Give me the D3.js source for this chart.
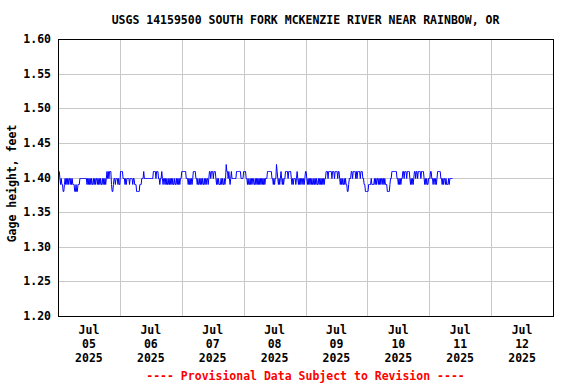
<!DOCTYPE html>
<html>
<head>
<meta charset="utf-8">
<script src="https://cdn.jsdelivr.net/npm/d3@7"></script>
<style>
  body{margin:0;background:#fff;}
  svg text{font-family:"DejaVu Sans Mono",monospace;font-weight:bold;font-size:11.5px;}
</style>
</head>
<body>
<svg id="chart" width="576" height="384"></svg>
<script>
// chart data -------------------------
var title='USGS 14159500 SOUTH FORK MCKENZIE RIVER NEAR RAINBOW, OR';
var yLabel='Gage height, feet';
var footer='---- Provisional Data Subject to Revision ----';
var yTicks=[1.20,1.25,1.30,1.35,1.40,1.45,1.50,1.55,1.60];
var dayTicks=['2025-07-05','2025-07-06','2025-07-07','2025-07-08','2025-07-09','2025-07-10','2025-07-11','2025-07-12'];
var startTime='2025-07-05T00:00';
var endTime='2025-07-13T00:00';

// 15-minute gage readings, one string per day, digit = hundredths above 1.38 ft
var readings=[
  '333212110012121212212121110010011122222222222121212121121212212121211212121232323331001221222121',
  '133332221212222122221221110000011122232222222222222233332333221223212212121121212121121121212122',
  '333333322212121212333322121121212112121221233233323332121211121211212433232123222222233333332222',
  '333322121121212211212121212121212122233333332212122432121232121223333233332121222123212121221212',
  '332121212121121212112121212121223332333332333233332332121211212110012223323333232333323332211000',
  '001111211112121221212122121211100001223333333322121212233233323333212121233233233332333321212112',
  '2233221221212333332212122121112122222'
];

// setup -------------------------
var svg=d3.select('#chart');
var margin={left:58,right:553,top:39,bottom:316};

var x=d3.scaleTime()
  .domain([new Date(startTime),new Date(endTime)])
  .range([margin.left,margin.right]);
var y=d3.scaleLinear()
  .domain([1.20,1.60])
  .range([margin.bottom,margin.top]);

// expand the day strings into timed points
var series=[];
var t0=new Date(startTime).getTime();
readings.forEach(function(day,d){
  for(var i=0;i<day.length;i++){
    series.push({
      time:new Date(t0+(d*96+i)*15*60*1000),
      value:1.38+(+day[i])*0.01
    });
  }
});

// grid -------------------------
svg.append('g')
  .selectAll('line')
  .data(yTicks.slice(1,-1))
  .join('line')
  .attr('x1',margin.left).attr('x2',margin.right)
  .attr('y1',d=>Math.round(y(d))+0.5).attr('y2',d=>Math.round(y(d))+0.5)
  .attr('stroke','#c8c8c8');

svg.append('g')
  .selectAll('line')
  .data(dayTicks.slice(1))
  .join('line')
  .attr('x1',d=>Math.round(x(new Date(d+'T00:00')))+0.5)
  .attr('x2',d=>Math.round(x(new Date(d+'T00:00')))+0.5)
  .attr('y1',margin.top).attr('y2',margin.bottom)
  .attr('stroke','#c8c8c8');

// data line
var line=d3.line()
  .x(d=>x(d.time))
  .y(d=>Math.round(y(d.value))+0.5);

svg.append('path')
  .datum(series)
  .attr('d',line)
  .attr('fill','none')
  .attr('stroke','#0000ff')
  .attr('stroke-width',1);

// frame
svg.append('rect')
  .attr('x',margin.left+0.5).attr('y',margin.top+0.5)
  .attr('width',margin.right-margin.left).attr('height',margin.bottom-margin.top)
  .attr('fill','none').attr('stroke','#000');

// y tick labels
svg.append('g')
  .selectAll('text')
  .data(yTicks)
  .join('text')
  .attr('x',51)
  .attr('y',d=>y(d)+4)
  .attr('text-anchor','end')
  .text(d=>d.toFixed(2));

// x labels at noon of each day
var fmtMon=d3.timeFormat('%b'),fmtDay=d3.timeFormat('%d'),fmtYear=d3.timeFormat('%Y');
var xl=svg.append('g')
  .selectAll('text')
  .data(dayTicks)
  .join('text')
  .attr('text-anchor','middle')
  .attr('transform',d=>'translate('+x(new Date(d+'T12:00'))+',0)');
xl.append('tspan').attr('x',0).attr('y',334).text(d=>fmtMon(new Date(d+'T12:00')));
xl.append('tspan').attr('x',0).attr('y',348).text(d=>fmtDay(new Date(d+'T12:00')));
xl.append('tspan').attr('x',0).attr('y',362).text(d=>fmtYear(new Date(d+'T12:00')));

// titles
svg.append('text')
  .attr('x',(margin.left+margin.right)/2)
  .attr('y',24)
  .attr('text-anchor','middle')
  .text(title);

svg.append('text')
  .attr('transform','translate(16,'+((margin.top+margin.bottom)/2+6)+') rotate(-90)')
  .attr('text-anchor','middle')
  .text(yLabel);

svg.append('text')
  .attr('x',(margin.left+margin.right)/2)
  .attr('y',380)
  .attr('text-anchor','middle')
  .attr('fill','#ff0000')
  .text(footer);
</script>
</body>
</html>
